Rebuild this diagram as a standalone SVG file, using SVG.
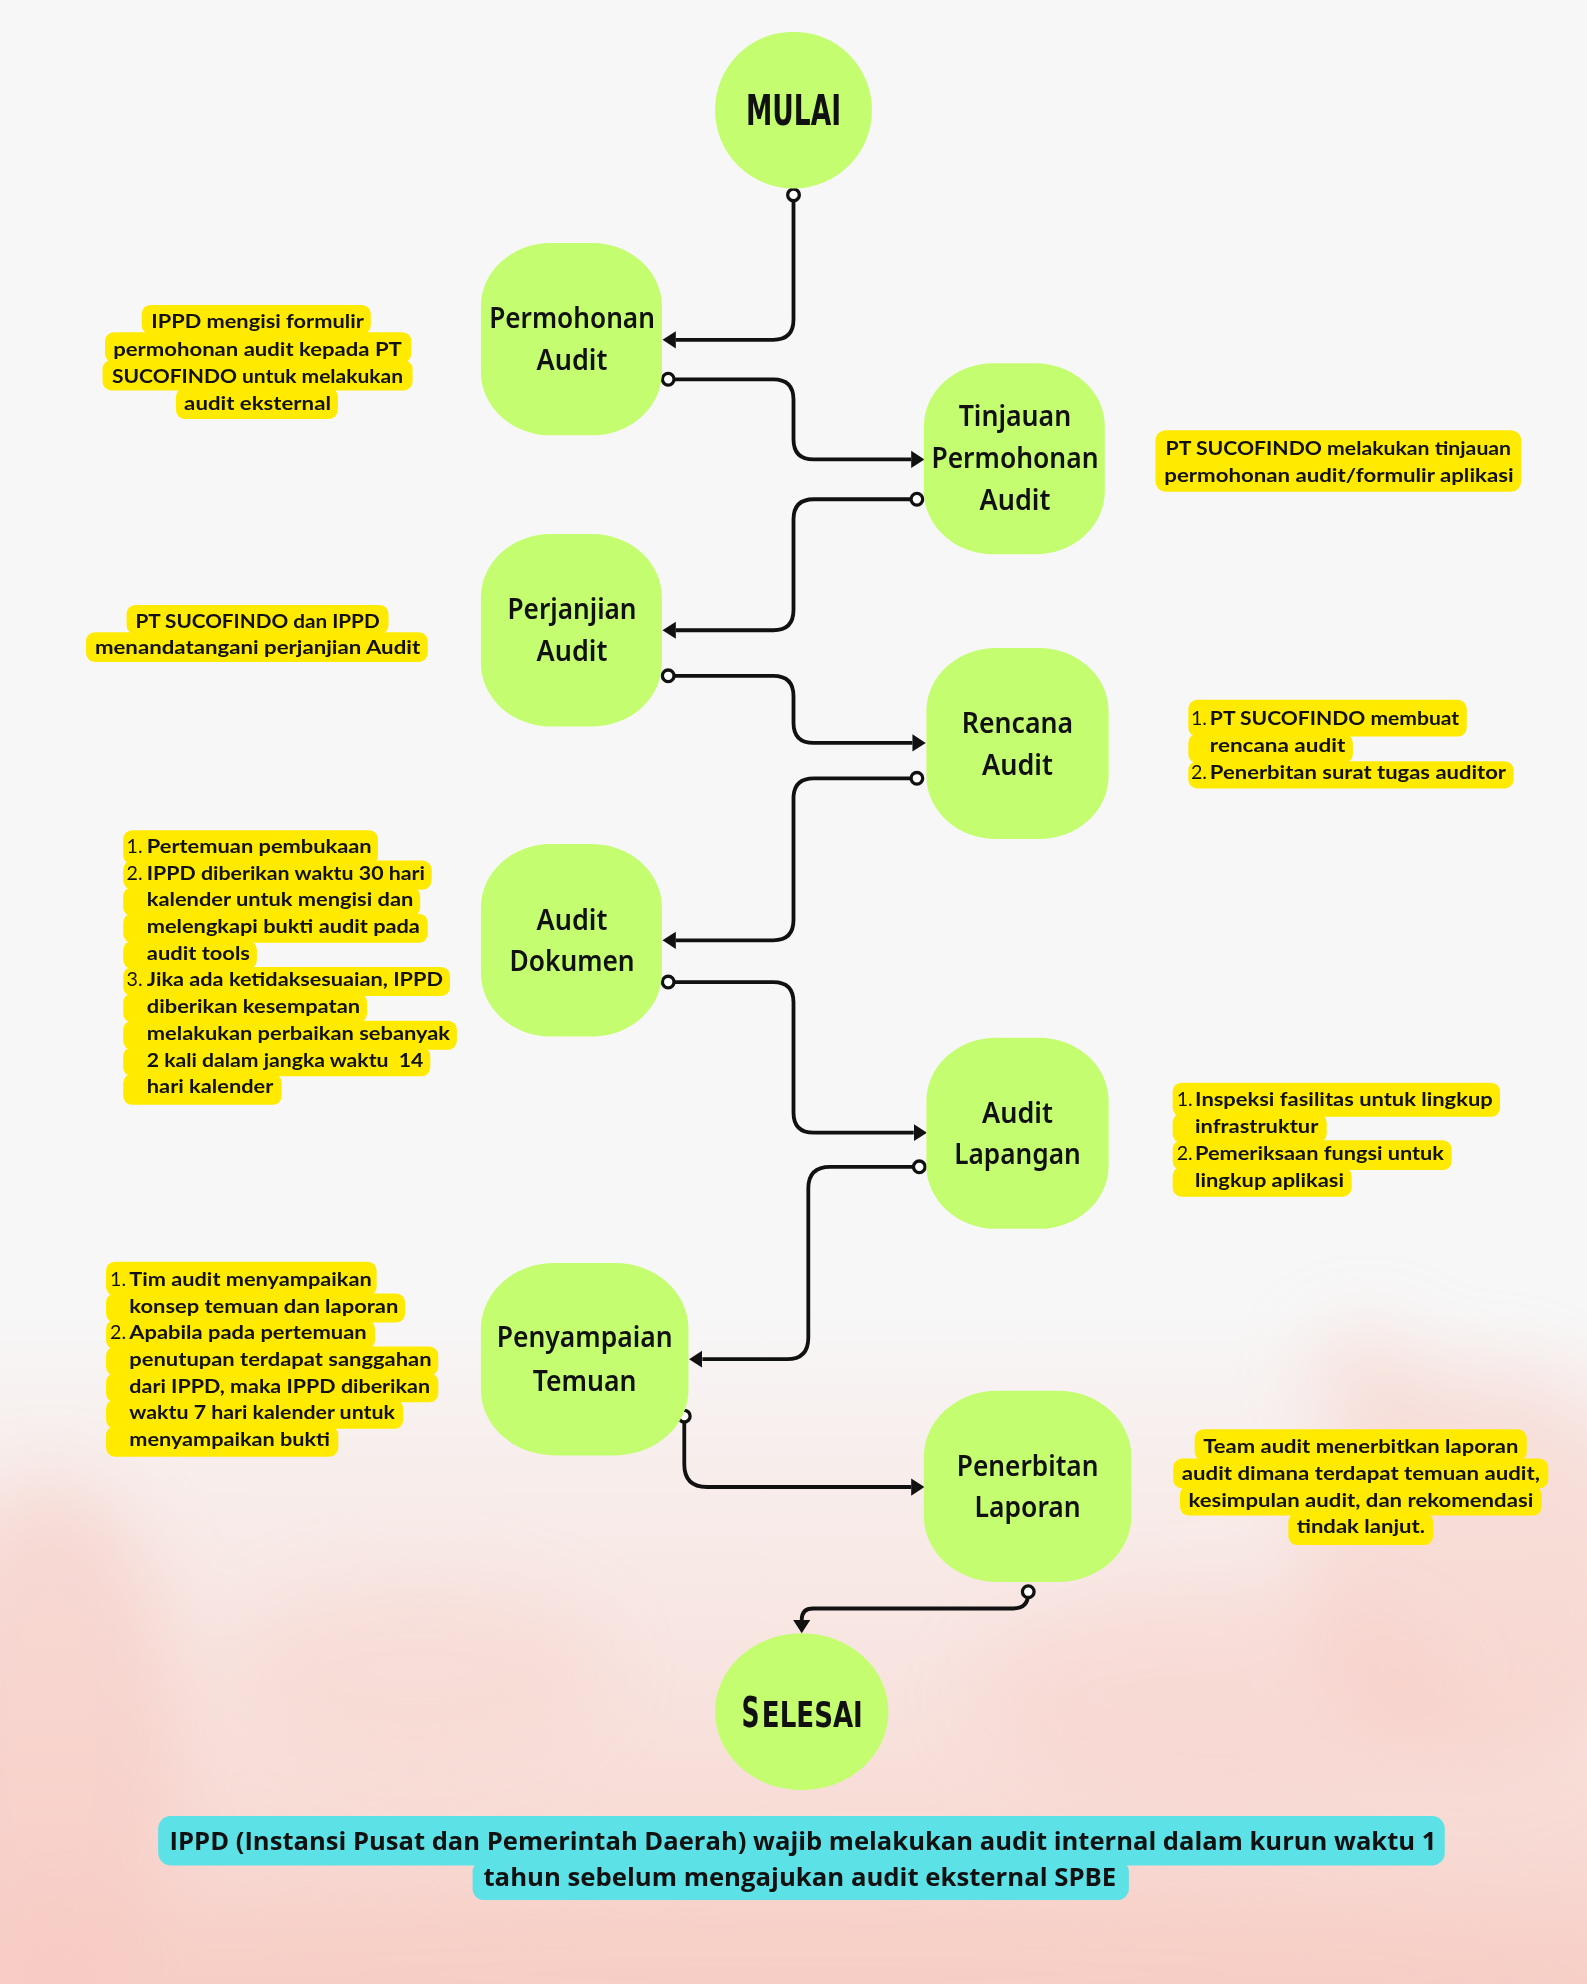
<svg xmlns="http://www.w3.org/2000/svg" width="1587" height="1984" viewBox="0 0 1587 1984">
<defs>
  <linearGradient id="bgGrad" x1="0" y1="0" x2="0" y2="1">
    <stop offset="0" stop-color="#f8cfc7" stop-opacity="0"/>
    <stop offset="0.66" stop-color="#f8cfc7" stop-opacity="0"/>
    <stop offset="0.8" stop-color="#f9d6cf" stop-opacity="0.45"/>
    <stop offset="0.92" stop-color="#f8d2ca" stop-opacity="0.75"/>
    <stop offset="1" stop-color="#f7cec6" stop-opacity="0.9"/>
  </linearGradient>
  <filter id="blur" x="-50%" y="-50%" width="200%" height="200%">
    <feGaussianBlur stdDeviation="28"/>
  </filter>
  <marker id="arrow" markerUnits="userSpaceOnUse" viewBox="0 -8 12 16" markerWidth="12" markerHeight="16" refX="0" refY="0" orient="auto">
    <path d="M0,-6.8 L10.5,0 L0,6.8 Z" fill="#111"/>
  </marker>
  <marker id="dot" markerUnits="userSpaceOnUse" viewBox="-8 -8 16 16" markerWidth="16" markerHeight="16" refX="0" refY="0" orient="auto">
    <circle cx="0" cy="0" r="4.6" fill="#ffffff" stroke="#111" stroke-width="2.6"/>
  </marker>
  <style>
    .node { fill: #c5fd70; }
    .lbl { font-family: "Noto Sans", "Open Sans", sans-serif; font-weight: 600; font-size: 22.5px; fill: #111; text-anchor: middle; }
    .big { font-family: "DejaVu Sans", "Liberation Sans", sans-serif; font-weight: 700; fill: #111; }
    .hl { fill: #ffea00; }
    .ann { font-family: "Lato", "Liberation Sans", sans-serif; font-weight: 700; font-size: 15.5px; fill: #111; }
    .num { font-family: "Lato", "Liberation Sans", sans-serif; font-weight: 400; font-size: 15.5px; fill: #111; }
    .mid { text-anchor: middle; }
    .conn { fill: none; stroke: #111; stroke-width: 3; stroke-linecap: butt; stroke-linejoin: round; marker-start: url(#dot); marker-end: url(#arrow); }
    .banner { fill: #5ce1e6; }
    .btxt { font-family: "Open Sans", "Liberation Sans", sans-serif; font-weight: 700; font-size: 20px; fill: #111; text-anchor: middle; }
  </style>
</defs>
<g transform="scale(1.26555)">
  <g id="background">
    <rect x="0" y="0" width="1254" height="1568" fill="#f7f7f7"/>
    <rect x="0" y="0" width="1254" height="1568" fill="url(#bgGrad)"/>
    <g filter="url(#blur)" fill="#f7c8bf">
      <ellipse cx="40" cy="1380" rx="100" ry="210" opacity="0.5"/>
      <ellipse cx="1170" cy="1240" rx="140" ry="160" opacity="0.42"/>
      <ellipse cx="1080" cy="1090" rx="45" ry="40" opacity="0.4"/>
      <ellipse cx="330" cy="1320" rx="150" ry="70" opacity="0.25"/>
      <ellipse cx="960" cy="1340" rx="190" ry="80" opacity="0.3"/>
      <ellipse cx="627" cy="1560" rx="700" ry="70" opacity="0.4"/>
    </g>
  </g>

  <g id="connectors">
    <path class="conn" d="M627,154 V252.5 Q627,268.5 611,268.5 H534"/>
    <path class="conn" d="M528,299.7 H611 Q627,299.7 627,315.7 V347 Q627,363 643,363 H720"/>
    <path class="conn" d="M724.5,394.5 H643 Q627,394.5 627,410.5 V482 Q627,498 611,498 H534"/>
    <path class="conn" d="M528,534 H611 Q627,534 627,550 V571 Q627,587 643,587 H721"/>
    <path class="conn" d="M724.5,615 H643 Q627,615 627,631 V727 Q627,743 611,743 H534"/>
    <path class="conn" d="M528,776 H611 Q627,776 627,792 V879 Q627,895 643,895 H722"/>
    <path class="conn" d="M726.4,922 H656 Q638.7,922 638.7,939 V1057 Q638.7,1074 621.7,1074 H555"/>
    <path class="conn" d="M540.7,1119 V1157 Q540.7,1175 558.7,1175 H720"/>
    <path class="conn" d="M812.5,1257.7 V1259 Q812.5,1271 800.5,1271 H642.5 Q633.5,1271 633.5,1280"/>
  </g>

  <g id="mulai">
    <ellipse cx="627" cy="87" rx="62" ry="62" class="node"/>
    <text transform="translate(627,99) scale(0.615,1)" class="big mid" font-size="34">MULAI</text>
  </g>

  <g id="permohonan-audit">
    <rect x="380" y="192" width="143" height="152" rx="55" ry="50" class="node"/>
    <text x="452" y="259.5" class="lbl" textLength="131" lengthAdjust="spacingAndGlyphs">Permohonan</text>
    <text x="452" y="292.5" class="lbl" textLength="56" lengthAdjust="spacingAndGlyphs">Audit</text>
  </g>

  <g id="tinjauan-permohonan-audit">
    <rect x="730" y="287" width="143" height="151" rx="55" ry="50" class="node"/>
    <text x="802" y="337" class="lbl" textLength="89" lengthAdjust="spacingAndGlyphs">Tinjauan</text>
    <text x="802" y="370" class="lbl" textLength="132" lengthAdjust="spacingAndGlyphs">Permohonan</text>
    <text x="802" y="403" class="lbl" textLength="56" lengthAdjust="spacingAndGlyphs">Audit</text>
  </g>

  <g id="perjanjian-audit">
    <rect x="380" y="422" width="143" height="152" rx="55" ry="50" class="node"/>
    <text x="452" y="489.5" class="lbl" textLength="102" lengthAdjust="spacingAndGlyphs">Perjanjian</text>
    <text x="452" y="522.5" class="lbl" textLength="56" lengthAdjust="spacingAndGlyphs">Audit</text>
  </g>

  <g id="rencana-audit">
    <rect x="732" y="512" width="144" height="151" rx="55" ry="50" class="node"/>
    <text x="804" y="579.5" class="lbl" textLength="88" lengthAdjust="spacingAndGlyphs">Rencana</text>
    <text x="804" y="612.5" class="lbl" textLength="56" lengthAdjust="spacingAndGlyphs">Audit</text>
  </g>

  <g id="audit-dokumen">
    <rect x="380" y="667" width="143" height="152" rx="55" ry="50" class="node"/>
    <text x="452" y="734.5" class="lbl" textLength="56" lengthAdjust="spacingAndGlyphs">Audit</text>
    <text x="452" y="767.5" class="lbl" textLength="99" lengthAdjust="spacingAndGlyphs">Dokumen</text>
  </g>

  <g id="audit-lapangan">
    <rect x="732" y="820" width="144" height="151" rx="55" ry="50" class="node"/>
    <text x="804" y="887" class="lbl" textLength="56" lengthAdjust="spacingAndGlyphs">Audit</text>
    <text x="804" y="920" class="lbl" textLength="100" lengthAdjust="spacingAndGlyphs">Lapangan</text>
  </g>

  <g id="penyampaian-temuan">
    <rect x="380" y="998" width="164" height="152" rx="58" ry="52" class="node"/>
    <text x="462" y="1064.5" class="lbl" textLength="139" lengthAdjust="spacingAndGlyphs">Penyampaian</text>
    <text x="462" y="1099.5" class="lbl" textLength="82" lengthAdjust="spacingAndGlyphs">Temuan</text>
  </g>

  <g id="penerbitan-laporan">
    <rect x="730" y="1099" width="164" height="151" rx="58" ry="52" class="node"/>
    <text x="812" y="1166" class="lbl" textLength="112" lengthAdjust="spacingAndGlyphs">Penerbitan</text>
    <text x="812" y="1199" class="lbl" textLength="84" lengthAdjust="spacingAndGlyphs">Laporan</text>
  </g>

  <g id="selesai">
    <ellipse cx="633.5" cy="1352.5" rx="68.5" ry="62" class="node"/>
    <text transform="translate(586,1364.5) scale(0.6,1)" class="big" font-size="33">S</text>
    <text transform="translate(602,1364.5) scale(0.75,1)" class="big" font-size="27.5">ELESAI</text>
  </g>

  <g id="note-permohonan">
    <rect x="112" y="241" width="181" height="23" rx="7" class="hl"/>
    <rect x="83" y="262.5" width="242" height="24" rx="7" class="hl"/>
    <rect x="81" y="284.5" width="245" height="24" rx="7" class="hl"/>
    <rect x="139" y="306.5" width="128" height="24.5" rx="7" class="hl"/>
    <text x="203.5" y="259.5" class="ann mid" textLength="168" lengthAdjust="spacingAndGlyphs">IPPD mengisi formulir</text>
    <text x="203.5" y="281" class="ann mid" textLength="228" lengthAdjust="spacingAndGlyphs">permohonan audit kepada PT</text>
    <text x="203.5" y="302.5" class="ann mid" textLength="230" lengthAdjust="spacingAndGlyphs">SUCOFINDO untuk melakukan</text>
    <text x="203.5" y="324" class="ann mid" textLength="116" lengthAdjust="spacingAndGlyphs">audit eksternal</text>
  </g>

  <g id="note-tinjauan">
    <rect x="913" y="340" width="289" height="48.5" rx="8" class="hl"/>
    <text x="921" y="359.5" class="ann" textLength="273" lengthAdjust="spacingAndGlyphs">PT SUCOFINDO melakukan tinjauan</text>
    <text x="920" y="380.6" class="ann" textLength="276" lengthAdjust="spacingAndGlyphs">permohonan audit/formulir aplikasi</text>
  </g>

  <g id="note-perjanjian">
    <rect x="100" y="478" width="207" height="23" rx="7" class="hl"/>
    <rect x="68" y="499.5" width="270" height="23.5" rx="7" class="hl"/>
    <text x="203.5" y="496" class="ann mid" textLength="193" lengthAdjust="spacingAndGlyphs">PT SUCOFINDO dan IPPD</text>
    <text x="203.5" y="517" class="ann mid" textLength="257" lengthAdjust="spacingAndGlyphs">menandatangani perjanjian Audit</text>
  </g>

  <g id="note-rencana">
    <rect x="939" y="553" width="220" height="29" rx="7" class="hl"/>
    <rect x="939" y="580" width="130" height="23" rx="7" class="hl"/>
    <rect x="939" y="601.5" width="257" height="21.5" rx="7" class="hl"/>
    <text x="941" y="573" class="num">1.</text>
    <text x="956" y="573" class="ann" textLength="197" lengthAdjust="spacingAndGlyphs">PT SUCOFINDO membuat</text>
    <text x="956" y="594" class="ann" textLength="107" lengthAdjust="spacingAndGlyphs">rencana audit</text>
    <text x="941" y="615.5" class="num">2.</text>
    <text x="956" y="615.5" class="ann" textLength="234" lengthAdjust="spacingAndGlyphs">Penerbitan surat tugas auditor</text>
  </g>

  <g id="note-dokumen">
    <rect x="97.4" y="656" width="201.3" height="27" rx="7" class="hl"/>
    <rect x="97.4" y="680" width="243.6" height="23" rx="7" class="hl"/>
    <rect x="97.4" y="701" width="234.6" height="23" rx="7" class="hl"/>
    <rect x="97.4" y="722" width="240.6" height="23" rx="7" class="hl"/>
    <rect x="97.4" y="743.5" width="105.6" height="22" rx="7" class="hl"/>
    <rect x="97.4" y="764" width="258.2" height="23" rx="7" class="hl"/>
    <rect x="97.4" y="785" width="192.6" height="23" rx="7" class="hl"/>
    <rect x="97.4" y="806.5" width="263.6" height="23" rx="7" class="hl"/>
    <rect x="97.4" y="827.5" width="242.6" height="23" rx="7" class="hl"/>
    <rect x="97.4" y="848.5" width="125.2" height="24.5" rx="7" class="hl"/>
    <text x="100" y="674" class="num">1.</text>
    <text x="116" y="674" class="ann" textLength="177.7" lengthAdjust="spacingAndGlyphs">Pertemuan pembukaan</text>
    <text x="100" y="695" class="num">2.</text>
    <text x="116" y="695" class="ann" textLength="219.8" lengthAdjust="spacingAndGlyphs">IPPD diberikan waktu 30 hari</text>
    <text x="116" y="716" class="ann" textLength="210.6" lengthAdjust="spacingAndGlyphs">kalender untuk mengisi dan</text>
    <text x="116" y="737" class="ann" textLength="215.8" lengthAdjust="spacingAndGlyphs">melengkapi bukti audit pada</text>
    <text x="116" y="758.5" class="ann" textLength="81.5" lengthAdjust="spacingAndGlyphs">audit tools</text>
    <text x="100" y="779.5" class="num">3.</text>
    <text x="116" y="779.5" class="ann" textLength="234" lengthAdjust="spacingAndGlyphs">Jika ada ketidaksesuaian, IPPD</text>
    <text x="116" y="800.5" class="ann" textLength="168.5" lengthAdjust="spacingAndGlyphs">diberikan kesempatan</text>
    <text x="116" y="821.7" class="ann" textLength="239.6" lengthAdjust="spacingAndGlyphs">melakukan perbaikan sebanyak</text>
    <text x="116" y="842.8" class="ann" textLength="218.5" lengthAdjust="spacingAndGlyphs" xml:space="preserve">2 kali dalam jangka waktu  14</text>
    <text x="116" y="864" class="ann" textLength="100" lengthAdjust="spacingAndGlyphs">hari kalender</text>
  </g>

  <g id="note-lapangan">
    <rect x="926.6" y="855.5" width="258.7" height="27" rx="7" class="hl"/>
    <rect x="926.6" y="880" width="121.7" height="23" rx="7" class="hl"/>
    <rect x="926.6" y="901" width="220.4" height="23.5" rx="7" class="hl"/>
    <rect x="926.6" y="922" width="141.4" height="23.6" rx="7" class="hl"/>
    <text x="929.8" y="874" class="num">1.</text>
    <text x="944.3" y="874" class="ann" textLength="235.2" lengthAdjust="spacingAndGlyphs">Inspeksi fasilitas untuk lingkup</text>
    <text x="944.3" y="895" class="ann" textLength="97.4" lengthAdjust="spacingAndGlyphs">infrastruktur</text>
    <text x="929.8" y="916.6" class="num">2.</text>
    <text x="944.3" y="916.6" class="ann" textLength="196.7" lengthAdjust="spacingAndGlyphs">Pemeriksaan fungsi untuk</text>
    <text x="944.3" y="937.7" class="ann" textLength="117.7" lengthAdjust="spacingAndGlyphs">lingkup aplikasi</text>
  </g>

  <g id="note-penyampaian">
    <rect x="83.8" y="997" width="213.8" height="27" rx="7" class="hl"/>
    <rect x="83.8" y="1022" width="236.2" height="23" rx="7" class="hl"/>
    <rect x="83.8" y="1043" width="212.5" height="23" rx="7" class="hl"/>
    <rect x="83.8" y="1064" width="262.5" height="23" rx="7" class="hl"/>
    <rect x="83.8" y="1085" width="262.5" height="23" rx="7" class="hl"/>
    <rect x="83.8" y="1106" width="234.8" height="23" rx="7" class="hl"/>
    <rect x="83.8" y="1127" width="183.5" height="24" rx="7" class="hl"/>
    <text x="87" y="1016.2" class="num">1.</text>
    <text x="102.2" y="1016.2" class="ann" textLength="191.5" lengthAdjust="spacingAndGlyphs">Tim audit menyampaikan</text>
    <text x="102.2" y="1037.3" class="ann" textLength="212.5" lengthAdjust="spacingAndGlyphs">konsep temuan dan laporan</text>
    <text x="87" y="1058.3" class="num">2.</text>
    <text x="102.2" y="1058.3" class="ann" textLength="187.5" lengthAdjust="spacingAndGlyphs">Apabila pada pertemuan</text>
    <text x="102.2" y="1079.4" class="ann" textLength="238.8" lengthAdjust="spacingAndGlyphs">penutupan terdapat sanggahan</text>
    <text x="102.2" y="1100.5" class="ann" textLength="237.6" lengthAdjust="spacingAndGlyphs">dari IPPD, maka IPPD diberikan</text>
    <text x="102.2" y="1121.6" class="ann" textLength="209.8" lengthAdjust="spacingAndGlyphs">waktu 7 hari kalender untuk</text>
    <text x="102.2" y="1142.6" class="ann" textLength="158.6" lengthAdjust="spacingAndGlyphs">menyampaikan bukti</text>
  </g>

  <g id="note-penerbitan">
    <rect x="944" y="1129.4" width="262.4" height="25" rx="7" class="hl"/>
    <rect x="927" y="1152.5" width="296.4" height="23.5" rx="7" class="hl"/>
    <rect x="932.4" y="1174" width="285.8" height="23.5" rx="7" class="hl"/>
    <rect x="1018" y="1195.5" width="114.5" height="25.3" rx="7" class="hl"/>
    <text x="1075.3" y="1148.4" class="ann mid" textLength="249" lengthAdjust="spacingAndGlyphs">Team audit menerbitkan laporan</text>
    <text x="1075.3" y="1169.5" class="ann mid" textLength="283" lengthAdjust="spacingAndGlyphs">audit dimana terdapat temuan audit,</text>
    <text x="1075.3" y="1190.5" class="ann mid" textLength="272.5" lengthAdjust="spacingAndGlyphs">kesimpulan audit, dan rekomendasi</text>
    <text x="1075.3" y="1211.6" class="ann mid" textLength="101.4" lengthAdjust="spacingAndGlyphs">tindak lanjut.</text>
  </g>

  <g id="note-banner">
    <rect x="125" y="1435" width="1016.6" height="39" rx="10" class="banner"/>
    <rect x="373.4" y="1470" width="518.6" height="31.3" rx="9" class="banner"/>
    <text x="634.5" y="1462" class="btxt" textLength="1001" lengthAdjust="spacingAndGlyphs">IPPD (Instansi Pusat dan Pemerintah Daerah) wajib melakukan audit internal dalam kurun waktu 1</text>
    <text x="632" y="1490" class="btxt" textLength="500" lengthAdjust="spacingAndGlyphs">tahun sebelum mengajukan audit eksternal SPBE</text>
  </g>
</g>
</svg>
